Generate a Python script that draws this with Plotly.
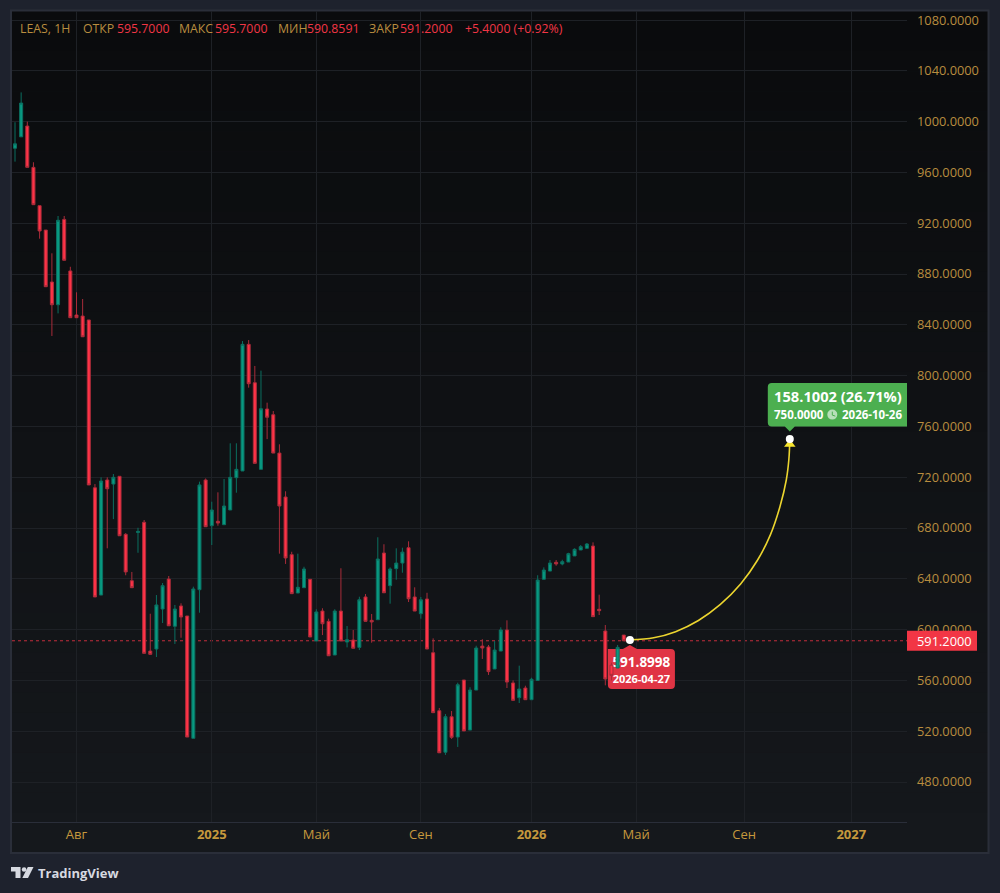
import pandas as pd
import plotly.graph_objects as go

# ---------- data ----------
first_week = "2024-05-27"
opens = [979,988,996.5,964,933.8,914.6,873.7,855.8,923,882.4,847.7,846.9,843.8,711.7,627.2,717.8,714.6,720.7,675,638.5,
         676.5,684.5,583.1,584.7,616.2,639.8,602.6,618.6,610.7,514.4,631.4,717.8,681.8,685.3,682.6,694.2,719.6,724.9,824.6,794.4,
         726.2,773.7,769.2,739,704.4,659,628.8,633,639.6,591,614.6,606.5,580,614.6,590.2,591.8,586,625.7,607.3,607.8,
         660.3,634.6,648,652.4,664.5,625.7,612.5,624.1,581.8,536.1,503.4,531.4,515.4,560.3,520.9,552.4,587,586.3,569,583.1,
         599.7,558,546.4,554,544.8,560,639.6,646.1,653,651.7,653.2,658,662.7,664,665.8,616,598.9,572,569.8,595.7]
highs = [999.5,1023,1000,968,934,914.6,896.3,925.7,925.7,885.7,865.6,860.3,843.8,714.6,719.9,719.9,722.5,720.7,676,645.4,
         680.2,686.3,612.5,627.2,636.7,642.2,619.4,620.7,610.7,633.8,716.5,719,700.7,708.1,718.6,746.7,746.7,827.2,828,807.6,
         803.9,778.7,772.1,745.9,708.9,661.3,659.8,649.5,639.6,616,616.8,608.6,616,648.3,602.8,599.7,625.9,628,612.3,672.7,
         667.2,649,664,664.5,669.5,633.3,625.7,629,593.1,538.3,533.5,535.9,558.2,560.3,554.6,587.3,592.4,587.9,591,601.8,
         607.3,560,571.6,555.8,562.1,642.8,649,654.8,654.8,655,660.5,664,666.6,668.2,668.7,627.5,603.6,574,587.9,595.7]
lows = [968.5,988,964,934.6,907.8,870,831.2,849,890.8,845.6,845.6,830.6,713.9,625.7,627.2,664,687,673.9,642.8,633,
        660.5,581.3,580.5,578.4,605.2,603,588.7,593.6,515.4,514.4,613.3,681,666.6,681.8,682.6,694.2,707.8,724.9,790.5,730.9,
        726.2,750,739,659.8,651.7,628.3,628.8,633,594.2,591,595.7,579.4,580,591,586,585.3,583.9,606.5,589.7,607.8,
        629,620.4,639.3,644.8,621.7,614.6,608.6,584.7,534.6,503,501.3,513.9,507.6,520.2,520.9,552.4,576.9,564.3,569,583.1,
        554,544.3,542.2,544.8,544.8,560,639.6,646.1,650.3,650.6,653.2,658,662.7,664,610.2,611.5,556.1,560,569.8,590.8591]
closes = [982.5,1014.6,964,934.6,913.9,870,855.8,922.3,890.8,845.6,845.6,830.6,713.9,625.7,717,710.9,719.9,673.9,645.4,633,
          677.3,581.3,580.5,619.4,634.6,603,616.2,609.9,515.4,632,713.9,681,694.2,683.9,697.3,719.9,726.2,824.6,793.6,730.9,
          773.9,767.2,739,697.3,656.4,628.3,633.3,647.7,594.2,613.9,604.6,579.4,614.6,591,592,585.3,623.5,606.5,606,655.6,
          629,647.7,652.4,661,624.3,614.6,623.5,584.7,534.6,503,531.4,515.2,556.6,520.2,552.4,585.5,585.5,566.9,583.9,599.7,
          558.7,544.3,553.2,544.8,560.9,639,646.9,652.4,651.7,653.5,659.8,663.2,665.3,667.4,610.2,614.9,561.1,564,586,591.2]

forecast_dates = ["2026-04-27","2026-05-24","2026-06-18","2026-07-14","2026-08-08","2026-08-31",
                  "2026-09-19","2026-10-04","2026-10-15","2026-10-22","2026-10-25","2026-10-26"]
forecast_values = [591.9,593.6,598.4,607.2,619.8,635.9,654.4,674.8,697.3,717.8,734.5,750]

price_ticks = [480,520,560,600,640,680,720,760,800,840,880,920,960,1000,1040,1080]
date_ticks = ["2024-08-05","2025-01-06","2025-05-05","2025-09-01","2026-01-05","2026-05-04","2026-09-04","2027-01-04"]
date_labels = ["Авг","<b>2025</b>","Май","Сен","<b>2026</b>","Май","Сен","<b>2027</b>"]
last_price = 591.2
header_parts = ["LEAS, 1H","ОТКР","595.7000","МАКС","595.7000","МИН","590.8591","ЗАКР","591.2000","+5.4000 (+0.92%)"]

# ---------- styles ----------
FONT = "Open Sans"
GOLD, RED, GREEN = "#b98d3f", "#f23645", "#089981"
L, R, T, B = 12, 907, 11, 822
px = lambda v: (v - L) / (R - L)
py = lambda v: (B - v) / (B - T)
weeks = pd.date_range(first_week, periods=len(opens), freq="7D")

fig = go.Figure()

# label text lives on the base subplot, so the candles of the overlay cover it
fig.add_trace(go.Scatter(
    x=["2026-05-10", "2026-05-10"], y=[572.9, 560.3], mode="text", hoverinfo="skip", showlegend=False,
    text=["<b>591.8998</b>", "<b>2026-04-27</b>"],
    textfont=dict(family=FONT, color="white", size=[13.5, 11]), textposition="middle center"))

fig.add_trace(go.Candlestick(
    x=weeks, open=opens, high=highs, low=lows, close=closes, xaxis="x2", yaxis="y2",
    increasing=dict(line=dict(color="#0b6f60", width=1), fillcolor=GREEN),
    decreasing=dict(line=dict(color="#a92c3a", width=1), fillcolor="#ff3347"),
    whiskerwidth=0, hoverinfo="skip", showlegend=False))
fig.add_trace(go.Scatter(
    x=forecast_dates, y=forecast_values, mode="lines", xaxis="x2", yaxis="y2", hoverinfo="skip", showlegend=False,
    line=dict(color="#ecd52f", width=1.6, shape="spline", smoothing=1)))
fig.add_trace(go.Scatter(
    x=[forecast_dates[-1]], y=[746], mode="markers", xaxis="x2", yaxis="y2", hoverinfo="skip", showlegend=False,
    marker=dict(symbol="triangle-up", size=10, color="#f7e52e", line=dict(width=0))))
fig.add_trace(go.Scatter(
    x=[forecast_dates[0], forecast_dates[-1]], y=[forecast_values[0], forecast_values[-1]], mode="markers",
    xaxis="x2", yaxis="y2", hoverinfo="skip", showlegend=False,
    marker=dict(size=8, color="white", line=dict(width=0))))

shapes = []
# panel with its soft vertical gradient
bands = 42
top_c, bot_c = (10, 11, 13), (21, 24, 28)
for k in range(bands):
    f = k / (bands - 1)
    c = tuple(round(a + (b - a) * f) for a, b in zip(top_c, bot_c))
    y0 = T + (853 - T) * k / bands
    y1 = T + (853 - T) * (k + 1) / bands
    shapes.append(dict(type="rect", xref="paper", yref="paper", x0=px(12), x1=px(988), y0=py(y1 + 0.5), y1=py(y0),
                       layer="below", line_width=0, fillcolor="rgb(%d,%d,%d)" % c))
# frame
shapes.append(dict(type="rect", xref="paper", yref="paper", x0=px(11), x1=px(988.5), y0=py(853), y1=py(10.5),
                   layer="below", line=dict(color="#2a2e39", width=2)))
# last-price dotted line
shapes.append(dict(type="line", xref="paper", yref="y", x0=0, x1=1, y0=last_price, y1=last_price, layer="between",
                   line=dict(color="#c22d3c", width=1, dash="dot")))
# last-price tag
shapes.append(dict(type="rect", xref="paper", yref="y", xsizemode="pixel", ysizemode="pixel", xanchor=1, yanchor=last_price,
                   x0=0, x1=70, y0=-10, y1=10, layer="above", line_width=0, fillcolor=RED))
# red callout (below the candles) anchored on the first forecast point
shapes.append(dict(type="path", xref="x", yref="y", xsizemode="pixel", ysizemode="pixel",
                   xanchor=forecast_dates[0], yanchor=forecast_values[0], layer="between", line_width=0, fillcolor="#e03444",
                   path="M -22 -9 L -7 -9 L 0 -5 L 7 -9 L 41 -9 Q 45 -9 45 -13 L 45 -45 Q 45 -49 41 -49 L -18 -49 Q -22 -49 -22 -45 Z"))
# green callout anchored on the target point
shapes.append(dict(type="path", xref="x", yref="y", xsizemode="pixel", ysizemode="pixel",
                   xanchor=forecast_dates[-1], yanchor=forecast_values[-1], layer="above", line_width=0, fillcolor="#4caf50",
                   path="M -22 56 L 118 56 L 118 12.5 L 5 12.5 L 0 7.5 L -5 12.5 L -18 12.5 Q -22 12.5 -22 16.5 L -22 52 Q -22 56 -18 56 Z"))
# clock icon in the green callout
shapes.append(dict(type="circle", xref="x", yref="y", xsizemode="pixel", ysizemode="pixel",
                   xanchor=forecast_dates[-1], yanchor=forecast_values[-1], layer="above", line_width=0, fillcolor="#b7dfb9",
                   x0=37.5, x1=47.5, y0=19.5, y1=29.5))
shapes.append(dict(type="path", xref="x", yref="y", xsizemode="pixel", ysizemode="pixel",
                   xanchor=forecast_dates[-1], yanchor=forecast_values[-1], layer="above",
                   line=dict(color="#4caf50", width=1), path="M 42.5 27.5 L 42.5 24 L 45.5 23"))
# TradingView logo
shapes.append(dict(type="path", xref="paper", yref="paper", layer="above", line_width=0, fillcolor="#d6d9e0",
                   path="M %f %f L %f %f L %f %f L %f %f L %f %f L %f %f Z" % (
                       px(11), py(867), px(20.5), py(867), px(20.5), py(878), px(15.5), py(878), px(15.5), py(871.5), px(11), py(871.5))))
shapes.append(dict(type="circle", xref="paper", yref="paper", layer="above", line_width=0, fillcolor="#d6d9e0",
                   x0=px(21.8), x1=px(26.4), y0=py(871.8), y1=py(867.2)))
shapes.append(dict(type="path", xref="paper", yref="paper", layer="above", line_width=0, fillcolor="#d6d9e0",
                   path="M %f %f L %f %f L %f %f L %f %f Z" % (
                       px(27.8), py(867), px(33.5), py(867), px(28), py(878), px(22.3), py(878))))

ann = []
header_x = [18, 81, 114.5, 177, 212.5, 275.7, 304.5, 367, 398, 462.7]
for k, (s, hx) in enumerate(zip(header_parts, header_x)):
    colour = GOLD if (k == 0 or (k < 9 and k % 2 == 1)) else RED
    ann.append(dict(text=s, xref="paper", yref="paper", x=px(hx), y=py(29), xanchor="left", yanchor="middle",
                    showarrow=False, font=dict(family=FONT, size=12.3, color=colour)))
ann.append(dict(text="591.2000", xref="paper", yref="y", x=1, y=last_price, xanchor="left", yanchor="middle",
                xshift=8, showarrow=False, font=dict(family=FONT, size=12.8, color="white")))
ann.append(dict(text="<b>158.1002 (26.71%)</b>", xref="x", yref="y", x=forecast_dates[-1], y=forecast_values[-1],
                xshift=48.5, yshift=43, xanchor="center", yanchor="middle", showarrow=False,
                font=dict(family=FONT, size=14.7, color="white")))
ann.append(dict(text="<b>750.0000</b>", xref="x", yref="y", x=forecast_dates[-1], y=forecast_values[-1],
                xshift=-18, yshift=25, xanchor="left", yanchor="middle", showarrow=False,
                font=dict(family=FONT, size=11.5, color="white")))
ann.append(dict(text="<b>2026-10-26</b>", xref="x", yref="y", x=forecast_dates[-1], y=forecast_values[-1],
                xshift=50.5, yshift=25, xanchor="left", yanchor="middle", showarrow=False,
                font=dict(family=FONT, size=11.5, color="white")))
ann.append(dict(text="<b>TradingView</b>", xref="paper", yref="paper", x=px(35.5), y=py(873), xanchor="left", yanchor="middle",
                showarrow=False, font=dict(family=FONT, size=13, color="#d6d9e0")))

fig.update_layout(
    width=1000, height=893, margin=dict(l=L, r=1000 - R, t=T, b=893 - B), showlegend=False,
    paper_bgcolor="#1e222d", plot_bgcolor="rgba(0,0,0,0)", shapes=shapes, annotations=ann, hovermode=False,
    font=dict(family=FONT, color=GOLD, size=13),
    xaxis=dict(type="date", range=["2024-05-23 14:00", "2027-03-08 10:00"], tickvals=date_ticks, ticktext=date_labels,
               showgrid=True, gridcolor="#1e2126", gridwidth=1, zeroline=False, ticks="", showline=True,
               linecolor="#2a2e39", linewidth=1, tickfont=dict(family=FONT, size=13, color="#c6983c"), rangeslider=dict(visible=False)),
    yaxis=dict(side="right", range=[448.5, 1087.1], tickvals=price_ticks, tickformat=".4f", showgrid=True, gridcolor="#1e2126",
               gridwidth=1, zeroline=False, ticks="", showline=False, ticklabelstandoff=9,
               tickfont=dict(family=FONT, size=12.8, color=GOLD)),
    xaxis2=dict(overlaying="x", matches="x", visible=False, type="date", rangeslider=dict(visible=False)),
    yaxis2=dict(overlaying="y", matches="y", visible=False),
)
fig.write_html("out.html", config={"displayModeBar": False},
               post_script="document.body.style.margin='0';document.body.style.overflow='hidden';")
